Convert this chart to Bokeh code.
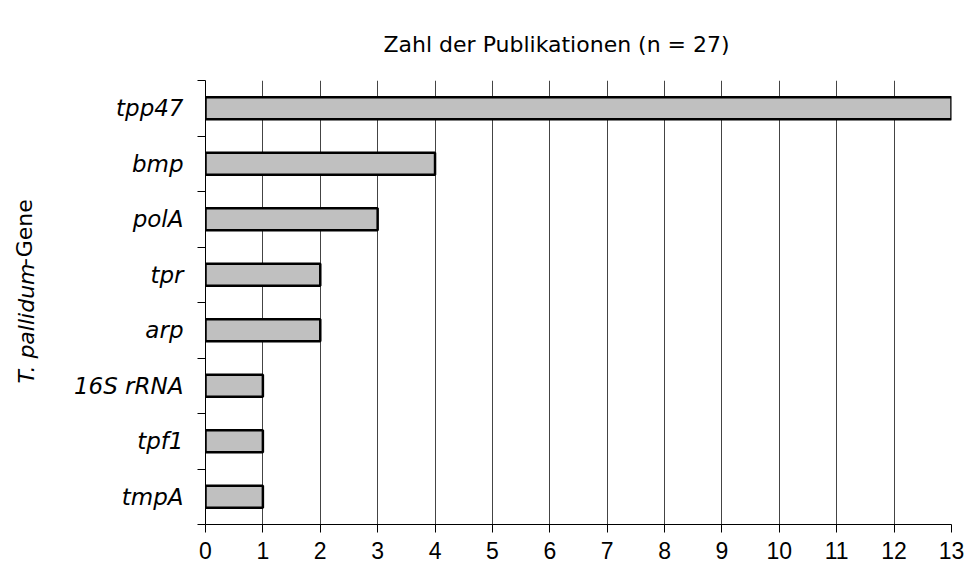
from bokeh.plotting import figure
from bokeh.models import FixedTicker, Range1d, ColumnDataSource, LinearAxis
from bokeh.embed import file_html
from bokeh.resources import INLINE

genes = ["tpp47", "bmp", "polA", "tpr", "arp", "16S rRNA", "tpf1", "tmpA"]
counts = [13, 4, 3, 2, 2, 1, 1, 1]
x_ticks = list(range(0, 14))
title_text = "Zahl der Publikationen (n = 27)"
ylabel_italic = "T. pallidum"
ylabel_regular = "-Gene"

n = len(genes)
ypos = [n - 1 - i + 0.5 for i in range(n)]
src = ColumnDataSource(dict(y=ypos, right=counts, gene=genes))

NB = "\u00a0"
W, H = 968, 566
p = figure(width=W, height=H, output_backend="svg", toolbar_location=None,
           x_range=Range1d(0, 13), y_range=Range1d(0, n),
           min_border_left=205, min_border_right=17, min_border_top=80, min_border_bottom=42)
p.outline_line_color = None
p.background_fill_color = "white"
p.border_fill_color = "white"

p.title.text = title_text
p.title.align = "left"
p.title.offset = 178
p.title.standoff = 48
p.title.text_font = "DejaVu Sans"
p.title.text_font_style = "normal"
p.title.text_font_size = "22px"
p.title.text_color = "black"

p.hbar(y="y", left=0, right="right", height=0.4, source=src,
       fill_color="#c0c0c0", line_color="black", line_width=2.5)

# x axis
p.xaxis.ticker = FixedTicker(ticks=x_ticks)
p.xaxis.major_tick_out = 8
p.xaxis.major_tick_in = 0
p.xaxis.minor_tick_line_color = None
p.xaxis.axis_line_color = "black"
p.xaxis.major_tick_line_color = "black"
p.xaxis.major_label_text_font = "Liberation Sans"
p.xaxis.major_label_text_font_size = "23px"
p.xaxis.major_label_text_color = "black"
p.xaxis.major_label_standoff = 9

# y axis (inner, with category labels and the italic part of the axis title)
ya = p.yaxis[0]
ya.ticker = FixedTicker(ticks=ypos, minor_ticks=list(range(0, n + 1)))
ya.major_label_overrides = {y: g for y, g in zip(ypos, genes)}
ya.major_tick_line_color = None
ya.major_tick_out = 0
ya.major_tick_in = 0
ya.minor_tick_out = 8
ya.minor_tick_in = 0
ya.minor_tick_line_color = "black"
ya.axis_line_color = "black"
ya.major_label_text_font = "DejaVu Sans"
ya.major_label_text_font_style = "italic"
ya.major_label_text_font_size = "23px"
ya.major_label_text_color = "black"
ya.major_label_standoff = 14
ya.axis_label = NB * 3 + ylabel_italic + NB * 9
ya.axis_label_text_font = "DejaVu Sans"
ya.axis_label_text_font_style = "italic"
ya.axis_label_text_font_size = "22px"
ya.axis_label_text_color = "black"
ya.axis_label_standoff = 32

# outer y axis carrying only the upright part of the axis title
yb = LinearAxis(ticker=FixedTicker(ticks=[]), axis_line_color=None,
                major_tick_line_color=None, minor_tick_line_color=None,
                major_label_text_font_size="0px",
                axis_label=NB * 3 + NB * 17 + ylabel_regular,
                axis_label_text_font="DejaVu Sans", axis_label_text_font_style="normal",
                axis_label_text_font_size="22px", axis_label_text_color="black",
                axis_label_standoff=-26)
p.add_layout(yb, "left")

p.xgrid.ticker = FixedTicker(ticks=x_ticks)
p.xgrid.grid_line_color = "#444444"
p.xgrid.grid_line_width = 1
p.ygrid.grid_line_color = None

open("out.html", "w").write(file_html(p, INLINE))
